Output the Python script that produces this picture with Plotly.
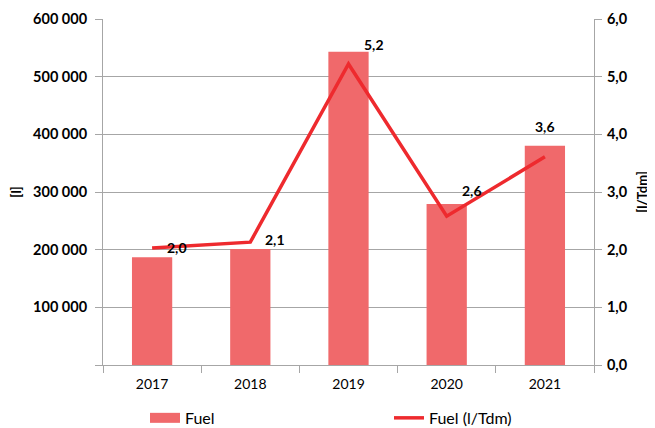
import plotly.graph_objects as go

years = ["2017", "2018", "2019", "2020", "2021"]
fuel_l = [187000, 201000, 543000, 279000, 380000]
fuel_l_tdm = [2.03, 2.13, 5.22, 2.58, 3.61]
fuel_labels = ["2,0", "2,1", "5,2", "2,6", "3,6"]
left_ticks = [0, 100000, 200000, 300000, 400000, 500000, 600000]
left_tick_text = ["", "100 000", "200 000", "300 000", "400 000", "500 000", "600 000"]
right_ticks = [0, 1, 2, 3, 4, 5, 6]
right_tick_text = ["0,0", "1,0", "2,0", "3,0", "4,0", "5,0", "6,0"]

label_dx = [25, 25, 25, 25, 0]
label_dy = [0, 3, 19, 26, 30]

FONT = "Lato"
GRID = "#A6A6A6"
BAR_C = "#F0696B"
LINE_C = "#EE2A2E"

fig = go.Figure()
fig.add_trace(go.Bar(x=years, y=fuel_l, name="Fuel", marker_color=BAR_C,
                     marker_line_width=0, width=0.41, yaxis="y", showlegend=False))
fig.add_trace(go.Scatter(x=years, y=fuel_l_tdm, name="Fuel (l/Tdm)", mode="lines",
                         line=dict(color=LINE_C, width=3.5), yaxis="y2", showlegend=False))
# legend-only entries (wide swatches like the original)
fig.add_trace(go.Scatter(x=[None], y=[None], name="Fuel", mode="lines",
                         line=dict(color=BAR_C, width=10), yaxis="y"))
fig.add_trace(go.Scatter(x=[None], y=[None], name="Fuel (l/Tdm)", mode="lines",
                         line=dict(color=LINE_C, width=3.5), yaxis="y2"))

for i, (v, t, dx, dy) in enumerate(zip(fuel_l_tdm, fuel_labels, label_dx, label_dy)):
    fig.add_annotation(x=i, y=v, xref="x", yref="y2", text=t, showarrow=False,
                       xshift=dx, yshift=dy,
                       font=dict(family=FONT, size=14, color="#000", weight="bold"))

fig.update_layout(
    width=647, height=420,
    margin=dict(l=95, r=61, t=11, b=63, autoexpand=False),
    paper_bgcolor="white", plot_bgcolor="white",
    showlegend=True,
    legend=dict(orientation="h", x=0.0855, y=-0.153, xanchor="left", yanchor="middle",
                entrywidth=199, entrywidthmode="pixels",
                font=dict(family=FONT, size=16, color="#000")),
    xaxis=dict(type="category", range=[-0.5, 4.5], showline=True, linecolor=GRID,
               ticks="outside", tickson="boundaries", ticklen=7, tickcolor=GRID,
               showgrid=False, automargin=False, ticklabelstandoff=6,
               tickfont=dict(family=FONT, size=14, color="#000")),
    yaxis=dict(range=[0, 600000], tickvals=left_ticks, ticktext=left_tick_text,
               showline=True, linecolor=GRID, ticks="outside", ticklen=7, tickcolor=GRID,
               showgrid=True, gridcolor=GRID, gridwidth=1, zeroline=False, automargin=False,
               ticklabelstandoff=5,
               tickfont=dict(family=FONT, size=14.5, color="#000", weight="bold"),
               title=dict(text="[l]", standoff=20,
                          font=dict(family=FONT, size=13, color="#000", weight="bold"))),
    yaxis2=dict(range=[0, 6], overlaying="y", side="right", tickvals=right_ticks,
                ticktext=right_tick_text, showline=True, linecolor=GRID, ticks="outside",
                ticklen=7, tickcolor=GRID, showgrid=False, zeroline=False, automargin=False,
                ticklabelstandoff=2,
                tickfont=dict(family=FONT, size=14.5, color="#000", weight="bold"),
                title=dict(text="[l/Tdm]", standoff=11,
                           font=dict(family=FONT, size=13, color="#000", weight="bold"))),
)

fig.write_html("out.html")
